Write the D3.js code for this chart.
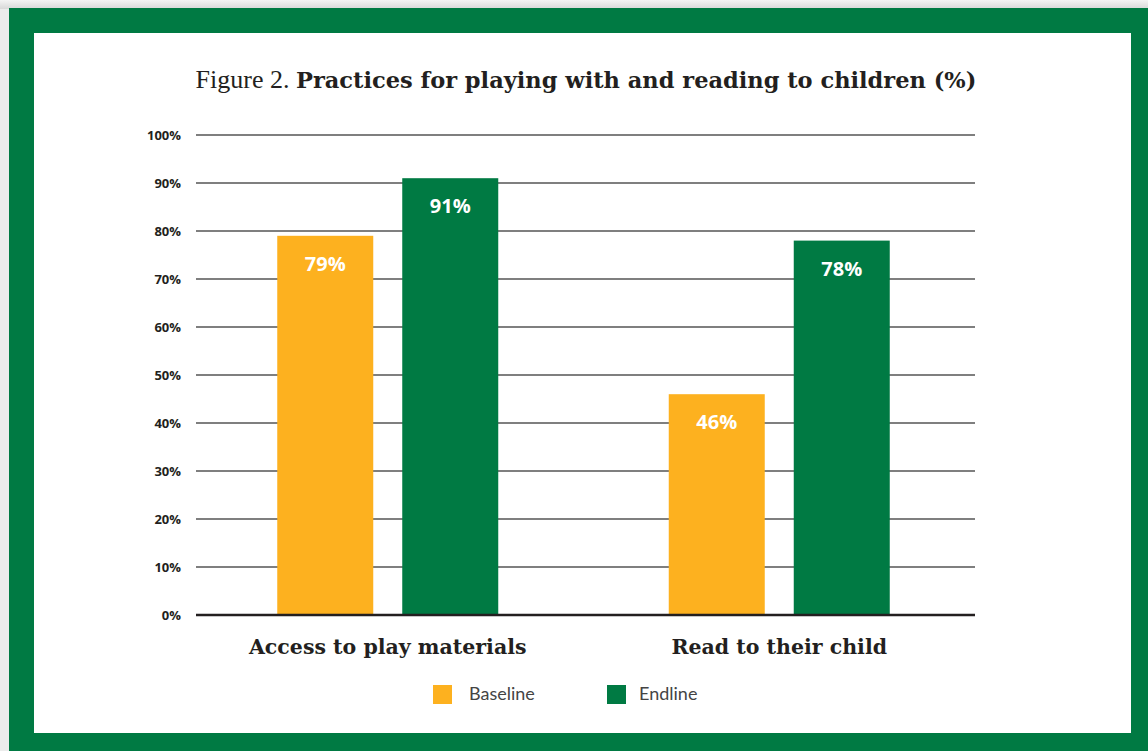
<!DOCTYPE html>
<html><head><meta charset="utf-8">
<script src="https://cdn.jsdelivr.net/npm/d3@7"></script>
<style>
html,body{margin:0;padding:0;background:#fff;}
svg{display:block;}
</style></head>
<body>
<svg id="chart" width="1148" height="751"></svg>
<script>
const categories = ["Access to play materials", "Read to their child"];
const seriesNames = ["Baseline", "Endline"];
const baselineValues = [79, 46];
const endlineValues = [91, 78];
const yTicks = [0, 10, 20, 30, 40, 50, 60, 70, 80, 90, 100];
const colors = {Baseline: "#fdb11f", Endline: "#007a43"};

const svg = d3.select("#chart");
const W = 1148, H = 751;

// background shadow + frame
const defs = svg.append("defs");
const g1 = defs.append("linearGradient").attr("id","shTop").attr("x1",0).attr("y1",0).attr("x2",0).attr("y2",1);
g1.append("stop").attr("offset","0").attr("stop-color","#f4f4f4");
g1.append("stop").attr("offset","1").attr("stop-color","#d8d8d8");
svg.append("rect").attr("x",0).attr("y",0).attr("width",W).attr("height",H).attr("fill","#ececec");
svg.append("rect").attr("x",0).attr("y",0).attr("width",W).attr("height",9).attr("fill","url(#shTop)");
svg.append("rect").attr("x",9).attr("y",8).attr("width",W-9).attr("height",H-8).attr("fill","#007a43");
svg.append("rect").attr("x",34).attr("y",33).attr("width",1097).attr("height",700).attr("fill","#ffffff");

// title
const title = svg.append("text").attr("x",586).attr("y",88).attr("text-anchor","middle")
  .attr("font-family","'DejaVu Serif', serif").attr("font-size",22.5).attr("fill","#231f20");
title.append("tspan").attr("font-weight",300).attr("font-family","'Liberation Serif', serif").attr("font-size",26).text("Figure 2. ");
title.append("tspan").attr("font-weight","bold").text("Practices for playing with and reading to children (%)");

const x0 = 196, x1 = 975, yTop = 135, yBot = 615;
const y = d3.scaleLinear().domain([0,100]).range([yBot, yTop]);
const xBand = d3.scaleBand().domain(categories).range([192, 975]).paddingInner(0).paddingOuter(0);
const groupW = 221;
const xInner = d3.scaleBand().domain(seriesNames).range([0, groupW]).paddingInner(0.232);

// gridlines
svg.append("g").selectAll("line").data(yTicks.filter(d=>d>0)).join("line")
  .attr("x1",x0).attr("x2",x1).attr("y1",d=>y(d)).attr("y2",d=>y(d))
  .attr("stroke","#555").attr("stroke-width",1.4);

// y axis labels
const yAxis = d3.axisLeft(y).tickValues(yTicks).tickFormat(d=>d+"%").tickSize(0).tickPadding(0);
const ya = svg.append("g").attr("transform",`translate(181,0)`).call(yAxis);
ya.select(".domain").remove();
ya.selectAll("text").attr("font-family","'Open Sans', sans-serif").attr("font-weight","bold")
  .attr("font-size",13).attr("fill","#231f20").attr("dy","0.35em");

const data = categories.map((c,i)=>({cat:c, vals:[{s:"Baseline",v:baselineValues[i]},{s:"Endline",v:endlineValues[i]}]}));

const groups = svg.append("g").selectAll("g").data(data).join("g")
  .attr("transform",d=>`translate(${xBand(d.cat)+xBand.bandwidth()/2-groupW/2},0)`);
groups.selectAll("rect").data(d=>d.vals).join("rect")
  .attr("x",d=>xInner(d.s)).attr("width",xInner.bandwidth())
  .attr("y",d=>y(d.v)).attr("height",d=>yBot-y(d.v)).attr("fill",d=>colors[d.s]);
groups.selectAll("text").data(d=>d.vals).join("text")
  .attr("x",d=>xInner(d.s)+xInner.bandwidth()/2).attr("y",d=>y(d.v)+35)
  .attr("text-anchor","middle").attr("font-family","'Open Sans', sans-serif").attr("font-weight","bold")
  .attr("font-size",20).attr("fill","#ffffff").text(d=>d.v+"%");

// baseline axis line
svg.append("line").attr("x1",x0).attr("x2",x1).attr("y1",yBot).attr("y2",yBot)
  .attr("stroke","#231f20").attr("stroke-width",2.4);

// category labels
const xAxis = d3.axisBottom(xBand).tickSize(0).tickPadding(0);
const xa = svg.append("g").attr("transform",`translate(0,${yBot})`).call(xAxis);
xa.select(".domain").remove();
xa.selectAll("text").attr("y",39).attr("dy",0).attr("font-family","'DejaVu Serif', serif").attr("font-weight","bold")
  .attr("font-size",20.5).attr("fill","#231f20");

// legend
const legendItems = [{s:"Baseline",x:433},{s:"Endline",x:607}];
const lg = svg.append("g").selectAll("g").data(legendItems).join("g").attr("transform",d=>`translate(${d.x},685)`);
lg.append("rect").attr("width",19).attr("height",19).attr("fill",d=>colors[d.s]);
lg.append("text").attr("x",d=>d.s==="Baseline"?36:32).attr("y",15).attr("font-family","Lato, sans-serif")
  .attr("font-size",18).attr("fill","#444").text(d=>d.s);
</script>
</body></html>
